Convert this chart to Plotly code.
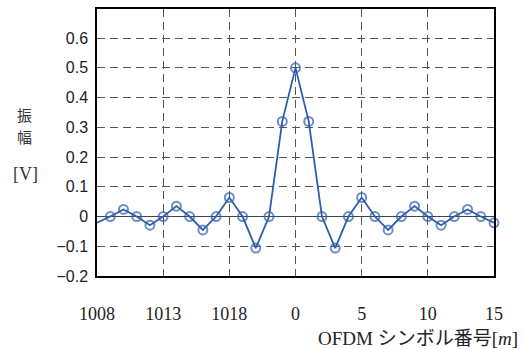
import plotly.graph_objects as go

# OFDM symbol index (wrapped around the 1024-point frame) and amplitude
symbol_pos = list(range(-15, 16))
amplitude = [
    -0.021, 0.0, 0.024, 0.0, -0.029, 0.0, 0.035, 0.0, -0.045, 0.0, 0.064,
    0.0, -0.106, 0.0, 0.32, 0.5, 0.32, 0.0, -0.106, 0.0, 0.064, 0.0,
    -0.045, 0.0, 0.035, 0.0, -0.029, 0.0, 0.024, 0.0, -0.021,
]
tick_pos = [-15, -10, -5, 0, 5, 10, 15]
tick_text = ["1008", "1013", "1018", "0", "5", "10", "15"]
y_ticks = [-0.2, -0.1, 0, 0.1, 0.2, 0.3, 0.4, 0.5, 0.6]
y_text = ["\u22120.2", "\u22120.1", "0", "0.1", "0.2", "0.3", "0.4", "0.5", "0.6"]

blue = "#2d5db0"
grid = "#555555"

fig = go.Figure()
fig.add_trace(go.Scatter(
    x=symbol_pos, y=amplitude, mode="lines+markers",
    line=dict(color=blue, width=1.8),
    marker=dict(symbol="circle-open", size=[0] + [9] * (len(symbol_pos) - 1),
                color=blue, line=dict(width=2)),
    cliponaxis=False, showlegend=False,
))

fig.update_layout(
    width=524, height=349,
    margin=dict(l=97, r=30, t=7, b=73),
    paper_bgcolor="white", plot_bgcolor="white",
    xaxis=dict(
        range=[-15, 15], tickvals=tick_pos, ticktext=tick_text,
        showgrid=True, gridcolor=grid, griddash="8px,5px", gridwidth=1,
        zeroline=False, showline=True, linecolor="black", linewidth=1.5,
        mirror=True, ticks="", ticklabelstandoff=21,
        tickfont=dict(family="Liberation Serif", size=18, color="#222"),
    ),
    yaxis=dict(
        range=[-0.2, 0.698], tickvals=y_ticks, ticktext=y_text,
        showgrid=True, gridcolor=grid, griddash="8px,5px", gridwidth=1,
        zeroline=True, zerolinecolor="#444", zerolinewidth=1,
        showline=True, linecolor="black", linewidth=1.5,
        mirror=True, ticks="", ticklabelstandoff=4,
        tickfont=dict(family="Liberation Sans", size=16, color="#222"),
    ),
    annotations=[
        dict(text="振", x=24, y=113, xanchor="center", yanchor="middle",
             xref="paper", yref="paper", showarrow=False, borderpad=0,
             font=dict(family="Noto Sans CJK JP", size=15, color="#333")),
        dict(text="幅", x=24, y=135, xanchor="center", yanchor="middle",
             xref="paper", yref="paper", showarrow=False, borderpad=0,
             font=dict(family="Noto Sans CJK JP", size=15, color="#333")),
        dict(text="[V]", x=25, y=173, xanchor="center", yanchor="middle",
             xref="paper", yref="paper", showarrow=False,
             font=dict(family="Liberation Serif", size=18, color="#333")),
        dict(text="OFDM <span style='font-family:\"Noto Sans CJK JP\"'>シンボル番号</span>[<i>m</i>]",
             x=520, y=337, xanchor="right", yanchor="middle",
             xref="paper", yref="paper", showarrow=False,
             font=dict(family="Liberation Serif", size=19, color="#222")),
    ],
)

# Place the free-standing labels in pixel coordinates
pw, ph = 524 - 97 - 30, 349 - 7 - 73
for a in fig.layout.annotations:
    a.x = (a.x - 97) / pw
    a.y = 1 - (a.y - 7) / ph

fig.write_html("out.html")
